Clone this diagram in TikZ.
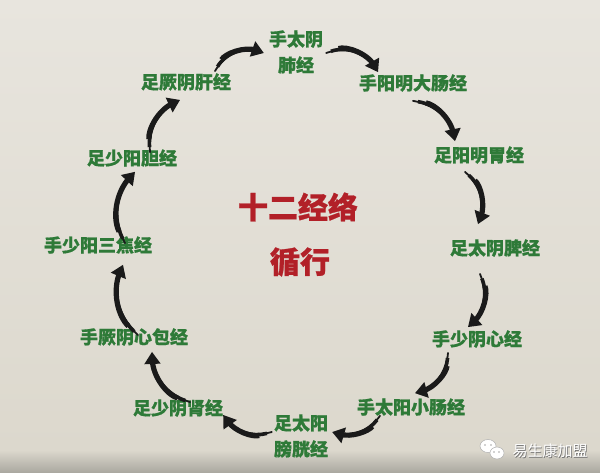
\documentclass[tikz,border=0pt]{standalone}
\usepackage{fontspec}
\newfontfamily\cjk{Noto Sans CJK SC}[BoldFeatures={FakeBold=0.8}]
\usetikzlibrary{arrows.meta,calc}
\definecolor{bgtop}{HTML}{E8E5DE}
\definecolor{bgmid}{HTML}{DCD8CD}
\definecolor{bgbot}{HTML}{A9A79F}
\definecolor{mgreen}{HTML}{2E7A38}
\definecolor{mred}{HTML}{B22028}
\definecolor{arrowk}{HTML}{1A1A1A}
\tikzset{
  mer/.style={font=\cjk\bfseries\fontsize{18}{26}\selectfont, text=mgreen, inner sep=1pt, align=center},
  title/.style={font=\cjk\bfseries\fontsize{30}{34}\selectfont, text=mred, inner sep=1pt},
  flow/.style={-{Triangle[length=12pt,width=16pt]}, line width=1.8pt, draw=arrowk, line cap=round,
    preaction={draw=arrowk, -, line width=3.6pt, shorten <=5pt, shorten >=8pt},
    preaction={draw=arrowk, -, line width=5.2pt, shorten <=13pt, shorten >=8pt}},
  wm/.style={font=\cjk\fontsize{15}{18}\selectfont, text=white, inner sep=0pt}
}
\begin{document}
\begin{tikzpicture}[x=1pt,y=-1pt]
\useasboundingbox (0,0) rectangle (600,473);
\fill[top color=bgtop, bottom color=bgmid] (0,0) rectangle (600,450);
\fill[top color=bgmid, bottom color=bgbot] (0,450) rectangle (600,473);
% meridian nodes
\node[mer] (fei) at (296,52) {手太阴\\肺经};
\node[mer] (dachang) at (413,83) {手阳明大肠经};
\node[mer] (wei) at (479,155) {足阳明胃经};
\node[mer] (pi) at (495,248) {足太阴脾经};
\node[mer] (xin) at (477,339) {手少阴心经};
\node[mer] (xiaochang) at (411,407) {手太阳小肠经};
\node[mer] (pangguang) at (301,436) {足太阳\\膀胱经};
\node[mer] (shen) at (178,408) {足少阴肾经};
\node[mer] (xinbao) at (134,337) {手厥阴心包经};
\node[mer] (sanjiao) at (98,245) {手少阳三焦经};
\node[mer] (dan) at (132,158) {足少阳胆经};
\node[mer] (gan) at (186,82) {足厥阴肝经};
% title
\node[title] (t1) at (298,207) {十二经络};
\node[title] (t2) at (300,262) {循行};
% arrows
\draw[flow] ([xshift=29pt,yshift=1pt]gan.north) to[bend left=40] ([xshift=-4pt,yshift=-1pt]fei.west);
\draw[flow] ([xshift=2pt,yshift=-1pt]fei.east) to[bend left=40] ([xshift=-35pt,yshift=1pt]dachang.north);
\draw[flow] ([yshift=-8pt]dachang.south) to[bend left=35] ([xshift=-24pt,yshift=4pt]wei.north);
\draw[flow] ([xshift=-14pt,yshift=-7pt]wei.south) to[bend left=35] ([xshift=-17pt,yshift=14pt]pi.north);
\draw[flow] ([xshift=-15pt,yshift=-16pt]pi.south) to[bend left=35] ([xshift=-9pt,yshift=2pt]xin.north);
\draw[flow] ([xshift=-29pt,yshift=-4pt]xin.south) to[bend left=35] ([xshift=4pt,yshift=4pt]xiaochang.north);
\draw[flow] ([xshift=-31pt,yshift=1pt]xiaochang.south) to[bend left=35] ([xshift=3pt,yshift=4pt]pangguang.east);
\draw[flow] ([xshift=-1pt,yshift=4pt]pangguang.west) to[bend left=35] ([xshift=-1pt,yshift=-7pt]shen.east);
\draw[flow] ([xshift=12pt,yshift=-4pt]shen.north) to[bend left=35] ([xshift=18pt,yshift=-5pt]xinbao.south);
\draw[flow] ([xshift=4pt,yshift=-8pt]xinbao.north) to[bend left=35] ([xshift=25pt,yshift=-10pt]sanjiao.south);
\draw[flow] ([xshift=27pt,yshift=-8pt]sanjiao.north) to[bend left=35] ([xshift=3pt,yshift=-4pt]dan.south);
\draw[flow] ([xshift=18pt,yshift=-4pt]dan.north) to[bend left=35] ([xshift=-6pt,yshift=-8pt]gan.south);
% watermark
\begin{scope}
\fill[white, draw=gray!60, line width=0.5pt] (488,446) ellipse (8pt and 6.5pt);
\fill[white, draw=gray!60, line width=0.5pt] (497,453) ellipse (7pt and 6pt);
\fill[gray!70] (485,445) circle (0.9pt) (491,445) circle (0.9pt) (494,452) circle (0.8pt) (499,452) circle (0.8pt);
\end{scope}
\node[wm, text=black!55] at (550.8,451.8) {易生康加盟};
\node[wm] (wmtext) at (550,451) {易生康加盟};
\end{tikzpicture}
\end{document}
